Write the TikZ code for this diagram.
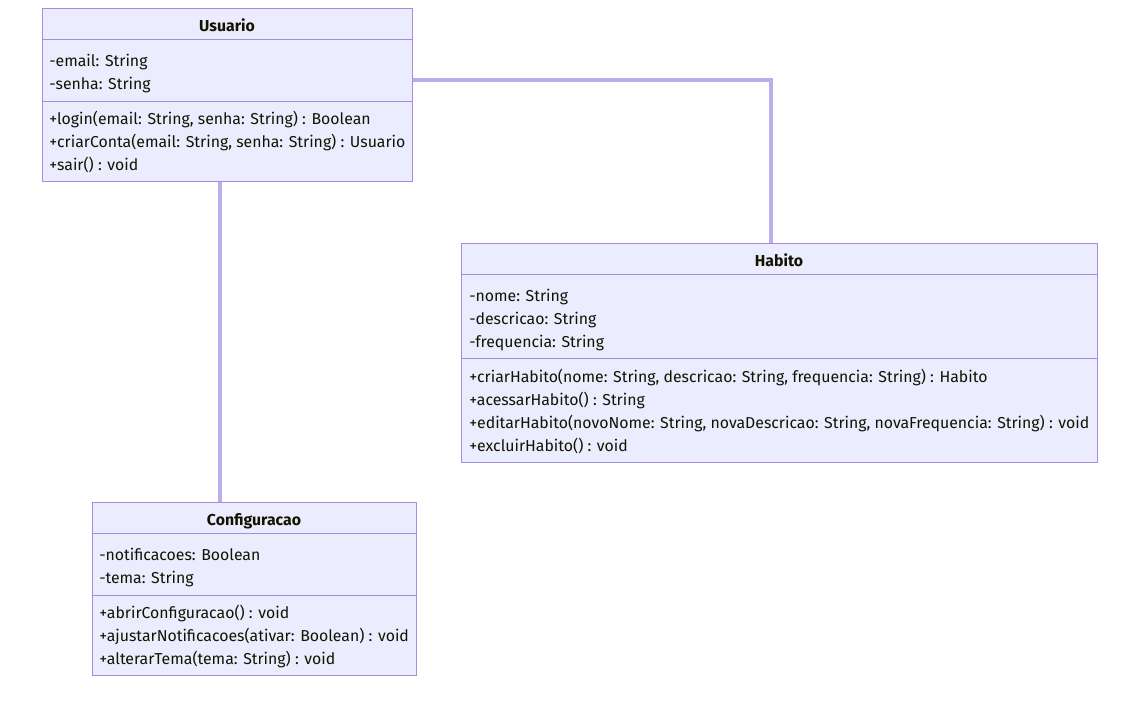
\documentclass[tikz,border=0pt]{standalone}
\usepackage{fontspec}
\setmainfont{Fira Sans}
\usetikzlibrary{fit}
\definecolor{boxfill}{HTML}{ECECFF}
\definecolor{boxline}{HTML}{A68BE0}
\definecolor{connline}{HTML}{BEADEC}
\definecolor{txt}{HTML}{131300}
\tikzset{
  classbox/.style={draw=boxline, fill=boxfill, line width=0.75pt, inner sep=0pt},
  divider/.style={draw=boxline, line width=0.75pt},
  conn/.style={draw=connline, line width=3pt},
  member/.style={anchor=base west, inner sep=0pt, text=txt, font=\fontsize{11.87pt}{14pt}\selectfont},
  title/.style={anchor=base, inner sep=0pt, text=txt, font=\fontsize{11.87pt}{14pt}\selectfont\bfseries},
}
\begin{document}
\begin{tikzpicture}[x=0.75pt,y=-0.75pt]
\useasboundingbox (0,0) rectangle (1135,718);
\fill[white] (0,0) rectangle (1135,718);
% Usuario
\node[classbox, fit={(42,8) (412,181)}] (u) {};
\draw[divider] (u.west |- 0,39) -- (u.east |- 0,39);
\draw[divider] (u.west |- 0,101) -- (u.east |- 0,101);
\node[title] (ut) at (227,31.3) {Usuario};
\node[member] (ua1) at (49,66.3) {-email: String};
\node[member] (ua2) at (49,89.3) {-senha: String};
\node[member] (um1) at (49,124.3) {+login(email: String, senha: String) : Boolean};
\node[member] (um2) at (49,147.3) {+criarConta(email: String, senha: String) : Usuario};
\node[member] (um3) at (49,170.3) {+sair() : void};
% Habito
\node[classbox, fit={(461,243) (1097,462)}] (h) {};
\draw[divider] (h.west |- 0,274) -- (h.east |- 0,274);
\draw[divider] (h.west |- 0,358) -- (h.east |- 0,358);
\node[title] (ht) at (779,266.3) {Habito};
\node[member] (ha1) at (469,301.3) {-nome: String};
\node[member] (ha2) at (469,324.3) {-descricao: String};
\node[member] (ha3) at (469,347.3) {-frequencia: String};
\node[member] (hm1) at (469,382.3) {+criarHabito(nome: String, descricao: String, frequencia: String) : Habito};
\node[member] (hm2) at (469,405.3) {+acessarHabito() : String};
\node[member] (hm3) at (469,428.3) {+editarHabito(novoNome: String, novaDescricao: String, novaFrequencia: String) : void};
\node[member] (hm4) at (469,451.3) {+excluirHabito() : void};
% Configuracao
\node[classbox, fit={(92,502) (416,675)}] (c) {};
\draw[divider] (c.west |- 0,533) -- (c.east |- 0,533);
\draw[divider] (c.west |- 0,595) -- (c.east |- 0,595);
\node[title] (ct) at (254,525.3) {Configuracao};
\node[member] (ca1) at (99,560.3) {-notificacoes: Boolean};
\node[member] (ca2) at (99,583.3) {-tema: String};
\node[member] (cm1) at (99,618.3) {+abrirConfiguracao() : void};
\node[member] (cm2) at (99,641.3) {+ajustarNotificacoes(ativar: Boolean) : void};
\node[member] (cm3) at (99,664.3) {+alterarTema(tema: String) : void};
% connectors
\draw[conn] (u.east |- 0,80) -| ([xshift=-6pt]h.north);
\draw[conn] (u.south -| 220,0) -- (c.north -| 220,0);
\end{tikzpicture}
\end{document}
